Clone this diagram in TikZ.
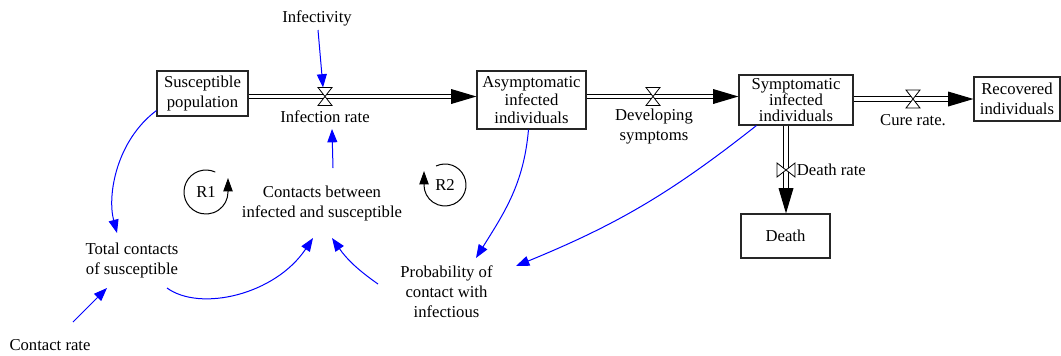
\documentclass[tikz,border=0pt]{standalone}
\usepackage{fontspec}
\setmainfont{Liberation Serif}
\usepackage{tikz}
\usetikzlibrary{arrows.meta, positioning}
\tikzset{
    stock/.style={draw=black!85, line width=0.8pt, align=center, inner sep=1pt, font=\fontsize{12.5}{15}\selectfont},
    aux/.style={align=center, inner sep=0pt, font=\fontsize{12.5}{15}\selectfont},
    flow/.style={draw=black, line width=0.9pt, double=white, double distance=2.4pt, -{Triangle[length=19pt,width=11pt]}},
    link/.style={draw=blue, line width=0.75pt, -{Triangle[length=10pt,width=7.5pt]}},
    valvebody/.style={draw=black, line width=0.6pt, fill=white},
    loopsign/.style={draw=black, line width=0.75pt, -{Triangle[length=10pt,width=7pt]}}
}
\def\valve#1#2{
    \begin{scope}[shift={(#1)}, rotate=#2]
        \draw[valvebody] (-7,9) -- (7,9) -- (-7,-9) -- (7,-9) -- cycle; % bow tie
    \end{scope}
}

\begin{document}
\begin{tikzpicture}[x=0.75pt, y=0.75pt]
    \useasboundingbox (0,0) rectangle (1061,-355);

    % Stocks
    \node[stock, minimum width=68.25pt, minimum height=33.75pt] (sus) at (202.5,-93.5) {Susceptible\\population};
    \node[stock, minimum width=81.75pt, minimum height=43.5pt, font=\fontsize{12.5}{13.5}\selectfont] (asym) at (531.5,-100) {Asymptomatic\\infected\\individuals};
    \node[stock, minimum width=85.5pt, minimum height=37.5pt, font=\fontsize{12.5}{11.8}\selectfont] (symp) at (796,-100) {Symptomatic\\infected\\individuals};
    \node[stock, minimum width=64.5pt, minimum height=33pt] (rec) at (1017,-99) {Recovered\\individuals};
    \node[stock, minimum width=66.75pt, minimum height=33pt] (death) at (785.5,-236) {Death};

    % Valves
    \coordinate (v1) at (325,-96.5);
    \coordinate (v2) at (653,-96.5);
    \coordinate (v3) at (913,-99);
    \coordinate (v4) at (786,-170);

    % Pipes
    \draw[flow] (sus.east |- v1) -- (asym.west |- v1);
    \draw[flow] (asym.east |- v2) -- (symp.west |- v2);
    \draw[flow] (symp.east |- v3) -- (rec.west |- v3);
    \draw[flow] (symp.south -| v4) -- (death.north -| v4);
    \valve{v1}{0}
    \valve{v2}{0}
    \valve{v3}{0}
    \valve{v4}{90}

    % Rates and auxiliaries
    \node[aux] (infectivity) at (317,-18) {Infectivity};
    \node[aux] (infrate) at (325,-117) {Infection rate};
    \node[aux] (devsym) at (654,-127) {Developing\\symptoms};
    \node[aux] (cure) at (913,-120) {Cure rate.};
    \node[aux, right=8pt of v4] (deathrate) {Death rate};
    \node[aux] (contacts) at (322,-203) {Contacts between\\infected and susceptible};
    \node[aux] (total) at (132,-260) {Total contacts\\of susceptible};
    \node[aux] (prob) at (446.5,-292) {Probability of\\contact with\\infectious};
    \node[aux] (contactrate) at (50,-345) {Contact rate};

    % Links
    \draw[link] ([shift={(1,-12)}]infectivity.center) -- ([shift={(-2,9)}]v1);
    \draw[link] ([shift={(11,35)}]contacts.center) -- ([shift={(7,-12)}]infrate.center);
    \draw[link] ([shift={(0,6)}]sus.south west) .. controls +(-40,-30) and +(-10,38) .. ([shift={(-15,27)}]total.center);
    \draw[link] ([shift={(23,23)}]contactrate.center) -- ([shift={(-25,-28)}]total.center);
    \draw[link] ([shift={(35,-28)}]total.center) .. controls +(33,-24) and +(-38,-57) .. ([shift={(-9,-35)}]contacts.center);
    \draw[link] ([shift={(-68.5,8)}]prob.center) to[bend left=10] ([shift={(10,-35)}]contacts.center);
    \draw[link] ([shift={(-3,0)}]asym.south) to[out=-95, in=58] ([shift={(29.5,34)}]prob.center);
    \draw[link] ([shift={(18,0)}]symp.south west) to[bend left=8] ([shift={(69.5,26)}]prob.center);

    % Loop signs
    \node[aux] (r1) at (206,-192) {R1};
    \node[aux] (r2) at (445,-185) {R2};
    \draw[loopsign] ([shift={(65:22)}]r1.center) arc[start angle=65, end angle=360, radius=22] -- +(0,14);
    \draw[loopsign] ([shift={(115:21)}]r2.center) arc[start angle=115, end angle=-180, radius=21] -- +(0,14);
\end{tikzpicture}
\end{document}
